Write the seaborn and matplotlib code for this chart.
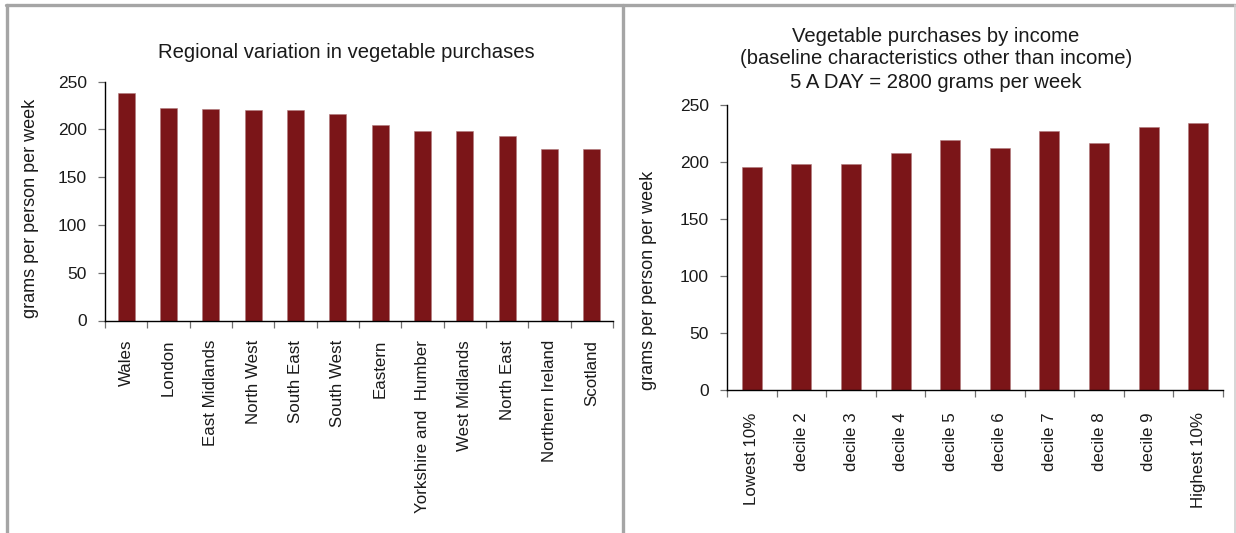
import matplotlib
matplotlib.use("Agg")
import matplotlib.pyplot as plt
import seaborn as sns
from matplotlib.lines import Line2D
import numpy as np

# Regional vegetable purchases (grams per person per week)
regions = ["Wales", "London", "East Midlands", "North West", "South East",
           "South West", "Eastern", "Yorkshire and  Humber", "West Midlands",
           "North East", "Northern Ireland", "Scotland"]
region_values = [238, 222, 221, 220, 220, 216, 205, 198, 198, 193, 180, 180]

# Purchases by income decile
deciles = ["Lowest 10%", "decile 2", "decile 3", "decile 4", "decile 5",
           "decile 6", "decile 7", "decile 8", "decile 9", "Highest 10%"]
decile_values = [196, 198, 198, 208, 219, 212, 227, 217, 231, 234]

yticks = [0, 50, 100, 150, 200, 250]

sns.set_theme(style="white")
plt.rcParams["font.family"] = ["Liberation Sans", "DejaVu Sans"]

BAR = "#7b1518"
W, H = 1236, 533
fig = plt.figure(figsize=(W / 100, H / 100), dpi=100)
fig.patch.set_facecolor("white")


def px_axes(x0, x1, ytop, ybot):
    return fig.add_axes([x0 / W, 1 - ybot / H, (x1 - x0) / W, (ybot - ytop) / H])


def style(ax, cats, values, label_pad):
    sns.barplot(x=cats, y=values, color=BAR, width=0.4, saturation=1,
                edgecolor="#b07a7c", linewidth=0.4, ax=ax)
    n = len(cats)
    ax.set_xlim(-0.5, n - 0.5)
    ax.set_ylim(0, 250)
    ax.set_yticks(yticks)
    ax.set_yticklabels([str(v) for v in yticks], fontsize=12.5, color="#1a1a1a")
    ax.set_xticks(range(n))
    ax.set_xticklabels(cats, rotation=90, fontsize=12.2, color="#1a1a1a")
    ax.set_xticks(np.arange(n + 1) - 0.5, minor=True)
    ax.tick_params(axis="x", which="major", length=0, pad=label_pad)
    ax.tick_params(axis="x", which="minor", length=5, width=0.9,
                   color="#707070", direction="out", bottom=True)
    ax.tick_params(axis="y", which="major", length=5, width=0.9,
                   color="#707070", direction="out", left=True, pad=8)
    for side in ("top", "right"):
        ax.spines[side].set_visible(False)
    for side in ("left", "bottom"):
        ax.spines[side].set_color("black")
        ax.spines[side].set_linewidth(1.0)
    ax.set_xlabel("")
    ax.set_ylabel("")
    ax.grid(False)


ax1 = px_axes(105, 613, 81.7, 320.5)
style(ax1, regions, region_values, label_pad=14)
ax2 = px_axes(727, 1223, 105, 390)
style(ax2, deciles, decile_values, label_pad=16)

# Titles
fig.text(346 / W, 1 - 52 / H, "Regional variation in vegetable purchases",
         ha="center", va="center", fontsize=14.6, color="#1a1a1a")
for i, line in enumerate(["Vegetable purchases by income",
                          "(baseline characteristics other than income)",
                          "5 A DAY = 2800 grams per week"]):
    fig.text(936 / W, 1 - (36 + 23 * i) / H, line,
             ha="center", va="center", fontsize=14.6, color="#1a1a1a")

# Axis titles
fig.text(31 / W, 1 - 208 / H, "grams per person per week", rotation=90,
         ha="center", va="center", fontsize=13, color="#1a1a1a")
fig.text(649 / W, 1 - 280 / H, "grams per person per week", rotation=90,
         ha="center", va="center", fontsize=13, color="#1a1a1a")

# Panel frames
frame = "#a5a5a5"
fig.add_artist(Line2D([6 / W, 1], [1 - 5 / H, 1 - 5 / H], color=frame, lw=2.4,
                      transform=fig.transFigure))
fig.add_artist(Line2D([7 / W, 7 / W], [0, 1 - 5 / H], color=frame, lw=2.4,
                      transform=fig.transFigure))
fig.add_artist(Line2D([622.5 / W, 622.5 / W], [0, 1 - 5 / H], color=frame, lw=2.4,
                      transform=fig.transFigure))
fig.add_artist(Line2D([1234.5 / W, 1234.5 / W], [0, 1 - 5 / H], color="#d0d0d0",
                      lw=1.2, transform=fig.transFigure))

fig.savefig("out.png", dpi=100, facecolor="white")
